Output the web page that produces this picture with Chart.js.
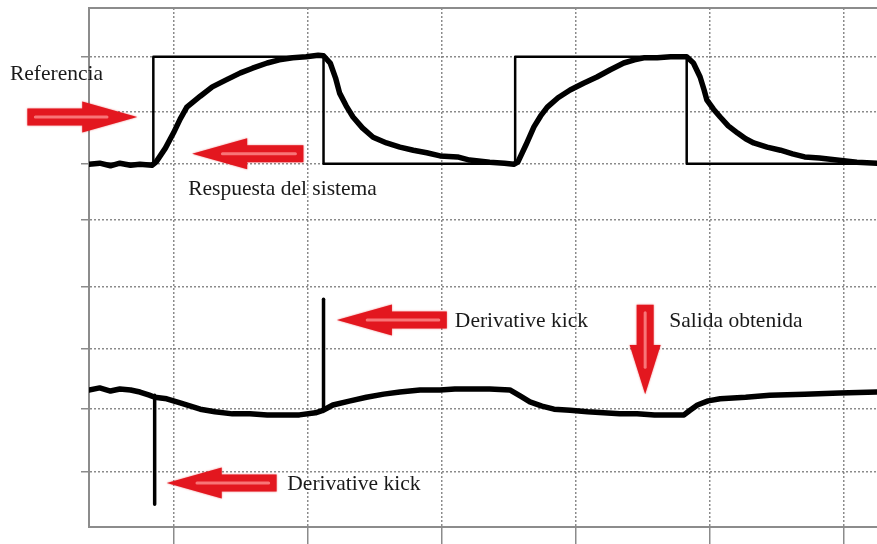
<!DOCTYPE html>
<html>
<head>
<meta charset="utf-8">
<script src="https://cdn.jsdelivr.net/npm/chart.js@4.4.1/dist/chart.umd.min.js"></script>
<style>
  html, body { margin: 0; padding: 0; background: #fff; }
  #wrap { width: 877px; height: 544px; position: relative; }
</style>
</head>
<body>
<div id="wrap"><canvas id="scope"></canvas></div>
<script>
// time in screen divisions, amplitude in scope units (0 = bottom edge)
const xGrid = [1, 2, 3, 4, 5, 6]
const yGrid = [1.06, 2.27, 3.43, 4.63, 5.92, 7.0, 8.0, 9.06]

// square wave set point
const refX = [0.37, 0.85, 0.85, 2.12, 2.12, 3.55, 3.55, 4.83, 4.83, 6.25]
const refY = [7.0, 7.0, 9.06, 9.06, 7.0, 7.0, 9.06, 9.06, 7.0, 7.0]

// system response (upper trace)
const respX = [
  0.37, 0.45, 0.53, 0.60, 0.68, 0.75, 0.84, 0.87, 0.94, 1.00,
  1.05, 1.10, 1.20, 1.29, 1.39, 1.50, 1.59, 1.70, 1.79, 1.89,
  1.99, 2.08, 2.12, 2.17, 2.21, 2.24, 2.29, 2.34, 2.41, 2.49,
  2.59, 2.69, 2.79, 2.89, 2.99, 3.12, 3.21, 3.36, 3.47, 3.54,
  3.57, 3.63, 3.69, 3.74, 3.79, 3.87, 3.96, 4.06, 4.16, 4.26,
  4.36, 4.44, 4.51, 4.61, 4.71, 4.78, 4.83, 4.88, 4.93, 4.96,
  4.98, 5.03, 5.08, 5.14, 5.21, 5.27, 5.33, 5.43, 5.53, 5.62,
  5.71, 5.82, 5.95, 6.10, 6.25]
const respY = [
  6.99, 7.01, 6.96, 7.01, 6.97, 6.99, 6.97, 7.03, 7.30, 7.59,
  7.86, 8.09, 8.30, 8.48, 8.61, 8.75, 8.84, 8.94, 9.00, 9.04,
  9.06, 9.09, 9.08, 8.94, 8.65, 8.36, 8.11, 7.90, 7.69, 7.51,
  7.40, 7.32, 7.26, 7.21, 7.15, 7.13, 7.07, 7.03, 7.01, 6.99,
  7.03, 7.36, 7.71, 7.92, 8.09, 8.27, 8.42, 8.55, 8.67, 8.81,
  8.94, 9.00, 9.04, 9.04, 9.06, 9.06, 9.06, 8.94, 8.67, 8.42,
  8.23, 8.05, 7.90, 7.73, 7.59, 7.48, 7.40, 7.32, 7.26, 7.19,
  7.13, 7.11, 7.07, 7.03, 7.01]

// controller output (lower trace)
const outX = [
  0.37, 0.45, 0.53, 0.60, 0.68, 0.75, 0.82, 0.86, 0.95, 1.05,
  1.20, 1.31, 1.44, 1.57, 1.70, 1.83, 1.94, 2.06, 2.11, 2.19,
  2.32, 2.44, 2.57, 2.69, 2.84, 2.99, 3.10, 3.21, 3.36, 3.51,
  3.59, 3.66, 3.75, 3.84, 3.96, 4.09, 4.21, 4.33, 4.46, 4.59,
  4.71, 4.81, 4.85, 4.91, 4.99, 5.08, 5.27, 5.45, 5.71, 5.97,
  6.25]
const outY = [
  2.64, 2.68, 2.62, 2.66, 2.64, 2.60, 2.54, 2.50, 2.47, 2.39,
  2.27, 2.22, 2.18, 2.18, 2.16, 2.16, 2.16, 2.20, 2.24, 2.35,
  2.43, 2.50, 2.56, 2.60, 2.64, 2.64, 2.66, 2.66, 2.66, 2.64,
  2.52, 2.41, 2.33, 2.27, 2.25, 2.22, 2.20, 2.18, 2.18, 2.16,
  2.16, 2.16, 2.24, 2.35, 2.43, 2.47, 2.50, 2.54, 2.56, 2.58,
  2.60]

// derivative kicks
const kickX = [0.86, 2.12]
const kickFrom = [2.54, 2.27]
const kickTo = [0.44, 4.39]

// callouts
const arrows = [
  { from: [-0.09, 7.90], to: [0.73, 7.90] },
  { from: [1.97, 7.19], to: [1.14, 7.19] },
  { from: [3.04, 3.99], to: [2.22, 3.99] },
  { from: [1.77, 0.85], to: [0.95, 0.85] },
  { from: [4.52, 4.28], to: [4.52, 2.56] },
]
const notes = [
  { text: 'Referencia', at: [-0.22, 8.61] },
  { text: 'Respuesta del sistema', at: [1.11, 6.40] },
  { text: 'Derivative kick', at: [3.10, 3.85] },
  { text: 'Derivative kick', at: [1.85, 0.71] },
  { text: 'Salida obtenida', at: [4.70, 3.85] },
]

const zip = (xs, ys) => xs.map((x, i) => ({ x, y: ys[i] }))

function drawArrow(ctx, x1, y1, x2, y2) {
  const dx = x2 - x1, dy = y2 - y1, len = Math.hypot(dx, dy)
  const ux = dx / len, uy = dy / len, nx = -uy, ny = ux
  const head = Math.min(55, len * 0.55), hw = 15.5, sw = 8.5
  const bx = x2 - ux * head, by = y2 - uy * head
  ctx.save()
  ctx.shadowColor = 'rgba(225,30,35,0.6)'
  ctx.shadowBlur = 2
  ctx.beginPath()
  ctx.moveTo(x1 + nx * sw, y1 + ny * sw)
  ctx.lineTo(bx + nx * sw, by + ny * sw)
  ctx.lineTo(bx + nx * hw, by + ny * hw)
  ctx.lineTo(x2, y2)
  ctx.lineTo(bx - nx * hw, by - ny * hw)
  ctx.lineTo(bx - nx * sw, by - ny * sw)
  ctx.lineTo(x1 - nx * sw, y1 - ny * sw)
  ctx.closePath()
  ctx.fillStyle = '#e3171f'
  ctx.fill()
  ctx.shadowBlur = 0
  ctx.beginPath()
  ctx.moveTo(x1 + ux * 8, y1 + uy * 8)
  ctx.lineTo(bx + ux * head * 0.45, by + uy * head * 0.45)
  ctx.strokeStyle = 'rgba(255,150,150,0.75)'
  ctx.lineWidth = 3
  ctx.lineCap = 'round'
  ctx.stroke()
  ctx.restore()
}

const callouts = {
  id: 'callouts',
  afterDatasetsDraw(chart) {
    const { ctx, scales: { x, y } } = chart
    arrows.forEach(a => drawArrow(ctx,
      x.getPixelForValue(a.from[0]), y.getPixelForValue(a.from[1]),
      x.getPixelForValue(a.to[0]), y.getPixelForValue(a.to[1])))
    ctx.save()
    ctx.font = '21.5px "Liberation Serif", "Times New Roman", serif'
    ctx.fillStyle = '#1a1a1a'
    ctx.textAlign = 'left'
    ctx.textBaseline = 'alphabetic'
    notes.forEach(n => ctx.fillText(n.text, x.getPixelForValue(n.at[0]), y.getPixelForValue(n.at[1])))
    ctx.restore()
  }
}

const gridCol = 'rgba(110,110,110,0.8)'
const frameCol = '#8c8c8c'

new Chart(document.getElementById('scope'), {
  type: 'line',
  data: {
    datasets: [
      { data: zip(respX, respY), borderColor: '#000', borderWidth: 5.5 },
      { data: zip(outX, outY), borderColor: '#000', borderWidth: 5.5 },
      ...kickX.map((k, i) => ({
        data: [{ x: k, y: kickFrom[i] }, { x: k, y: kickTo[i] }],
        borderColor: '#000', borderWidth: 3.5
      })),
      { data: zip(refX, refY), borderColor: '#000', borderWidth: 2.5 },
    ]
  },
  options: {
    responsive: true,
    maintainAspectRatio: false,
    animation: false,
    layout: { padding: { left: 81, top: 8, right: 0, bottom: 0 } },
    elements: {
      point: { radius: 0, hoverRadius: 0 },
      line: { tension: 0, borderJoinStyle: 'round', borderCapStyle: 'round' }
    },
    plugins: { legend: { display: false }, tooltip: { enabled: false } },
    scales: {
      x: {
        type: 'linear', min: 0.37, max: 6.25,
        afterBuildTicks: s => { s.ticks = xGrid.map(v => ({ value: v })) },
        ticks: { display: false },
        grid: { color: gridCol, lineWidth: 1.5, drawTicks: true, tickLength: 17 },
        border: { display: true, color: frameCol, width: 2, dash: [2, 2] }
      },
      top: {
        type: 'linear', position: 'top', min: 0.37, max: 6.25,
        ticks: { display: false },
        grid: { display: false, drawTicks: false },
        border: { display: true, color: frameCol, width: 2 }
      },
      y: {
        min: 0, max: 10,
        afterBuildTicks: s => { s.ticks = yGrid.map(v => ({ value: v })) },
        ticks: { display: false },
        grid: { color: gridCol, lineWidth: 1.5, drawTicks: true, tickLength: 8 },
        border: { display: true, color: frameCol, width: 2, dash: [2, 2] }
      }
    }
  },
  plugins: [callouts]
})
</script>
</body>
</html>
